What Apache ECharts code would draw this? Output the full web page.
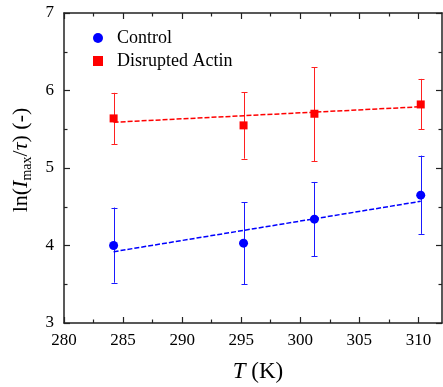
<!DOCTYPE html>
<html><head><meta charset="utf-8">
<script src="https://cdn.jsdelivr.net/npm/echarts@6/dist/echarts.min.js"></script>
<style>html,body{margin:0;padding:0;background:#fff}#c{width:443px;height:387px}</style>
</head><body><div id="c"></div>
<script>
const temps = [284.2, 295.2, 301.2, 310.2];
const controlVals = [4.00, 4.03, 4.34, 4.65];
const controlLow = [3.52, 3.50, 3.86, 4.15];
const controlHigh = [4.49, 4.56, 4.82, 5.16];
const actinVals = [5.64, 5.55, 5.70, 5.82];
const actinLow = [5.31, 5.12, 5.09, 5.50];
const actinHigh = [5.97, 5.98, 6.30, 6.15];
const fitT = [284.2, 310.2];
const controlFit = [3.92, 4.57];
const actinFit = [5.59, 5.79];
const xMajor = [280, 285, 290, 295, 300, 305, 310];
const xMinor = [282.5, 287.5, 292.5, 297.5, 302.5, 307.5];

const FONT = 'Liberation Serif';
const AX = '#222';
const chart = echarts.init(document.getElementById('c'));

function errSeries(name, low, high, color) {
  return {
    type: 'custom', name: name + ' err', xAxisIndex: 0, yAxisIndex: 0, z: 2,
    data: temps.map((t, i) => [t, low[i], high[i]]),
    renderItem: function (params, api) {
      const x = api.coord([api.value(0), api.value(1)])[0];
      const yl = api.coord([api.value(0), api.value(1)])[1];
      const yh = api.coord([api.value(0), api.value(2)])[1];
      const xr = Math.round(x) + 0.5;
      const st = { stroke: color, lineWidth: 1 };
      return { type: 'group', children: [
        { type: 'line', shape: { x1: xr, y1: yl, x2: xr, y2: yh }, style: st },
        { type: 'line', shape: { x1: xr - 3, y1: Math.round(yl) + 0.5, x2: xr + 3, y2: Math.round(yl) + 0.5 }, style: st },
        { type: 'line', shape: { x1: xr - 3, y1: Math.round(yh) + 0.5, x2: xr + 3, y2: Math.round(yh) + 0.5 }, style: st }
      ]};
    }
  };
}

const tickStyle = { color: AX, width: 1.2 };
const lineStyle = { color: AX, width: 1.5 };

chart.setOption({
  animation: false,
  textStyle: { fontFamily: FONT },
  grid: { left: 64, right: 1, top: 13, bottom: 64, containLabel: false, outerBoundsMode: 'none' },
  legend: {
    orient: 'vertical', left: 88, top: 24, itemWidth: 10, itemHeight: 10, itemGap: 5,
    data: ['Control', 'Disrupted Actin'],
    textStyle: { fontFamily: FONT, fontSize: 18, color: '#000', lineHeight: 18, padding: [0, 0, 0, 9] }
  },
  xAxis: [
    { type: 'value', position: 'bottom', min: 280, max: 312,
      axisLine: { show: true, onZero: false, lineStyle: lineStyle },
      axisTick: { show: true, inside: true, length: 6, customValues: xMajor, lineStyle: tickStyle },
      axisLabel: { customValues: xMajor, fontFamily: FONT, fontSize: 17, color: '#000', margin: 9 },
      splitLine: { show: false },
      name: '{i|T}{n| (K)}', nameLocation: 'middle', nameGap: 37,
      nameTextStyle: { padding: [0, 0, 0, 10], rich: {
        i: { fontFamily: FONT, fontSize: 23, fontStyle: 'italic', color: '#000' },
        n: { fontFamily: FONT, fontSize: 23, color: '#000' } } }
    },
    { type: 'value', position: 'bottom', min: 280, max: 312,
      axisLine: { show: false, onZero: false },
      axisTick: { show: true, inside: true, length: 3.5, customValues: xMinor, lineStyle: tickStyle },
      axisLabel: { show: false }, splitLine: { show: false } },
    { type: 'value', position: 'top', min: 280, max: 312,
      axisLine: { show: true, onZero: false, lineStyle: lineStyle },
      axisTick: { show: true, inside: true, length: 6, customValues: xMajor, lineStyle: tickStyle },
      axisLabel: { show: false }, splitLine: { show: false } },
    { type: 'value', position: 'top', min: 280, max: 312,
      axisLine: { show: false, onZero: false },
      axisTick: { show: true, inside: true, length: 3.5, customValues: xMinor, lineStyle: tickStyle },
      axisLabel: { show: false }, splitLine: { show: false } }
  ],
  yAxis: [
    { type: 'value', position: 'left', min: 3, max: 7, interval: 1,
      axisLine: { show: true, onZero: false, lineStyle: lineStyle },
      axisTick: { show: true, inside: true, length: 6, lineStyle: tickStyle },
      minorTick: { show: true, splitNumber: 2, length: 3.5, lineStyle: tickStyle },
      axisLabel: { fontFamily: FONT, fontSize: 17, color: '#000', margin: 10 },
      splitLine: { show: false },
      name: '{n|ln(}{i|I}{s|max}{n|/}{i|τ}{n|) (-)}', nameLocation: 'middle', nameGap: 30,
      nameTextStyle: { padding: [0, 0, 0, 16], rich: {
        n: { fontFamily: FONT, fontSize: 22, color: '#000', lineHeight: 26 },
        i: { fontFamily: FONT, fontSize: 22, fontStyle: 'italic', color: '#000', lineHeight: 26 },
        s: { fontFamily: FONT, fontSize: 14, color: '#000', lineHeight: 26, verticalAlign: 'bottom', padding: [10, 0, 0, 0] } } }
    },
    { type: 'value', position: 'right', min: 3, max: 7, interval: 1,
      axisLine: { show: true, onZero: false, lineStyle: lineStyle },
      axisTick: { show: true, inside: true, length: 6, lineStyle: tickStyle },
      minorTick: { show: true, splitNumber: 2, length: 3.5, lineStyle: tickStyle },
      axisLabel: { show: false }, splitLine: { show: false } }
  ],
  series: [
    errSeries('Control', controlLow, controlHigh, '#1a1aff'),
    errSeries('Disrupted Actin', actinLow, actinHigh, '#ff2020'),
    { type: 'line', name: 'Control fit', data: fitT.map((t, i) => [t, controlFit[i]]), symbol: 'none', z: 3,
      lineStyle: { color: '#0000ff', width: 1.5, type: [5, 2] } },
    { type: 'line', name: 'Actin fit', data: fitT.map((t, i) => [t, actinFit[i]]), symbol: 'none', z: 3,
      lineStyle: { color: '#ff0000', width: 1.5, type: [5, 2] } },
    { type: 'scatter', name: 'Control', data: temps.map((t, i) => [t, controlVals[i]]),
      symbol: 'circle', symbolSize: 9, z: 4, itemStyle: { color: '#0000ff', opacity: 1 } },
    { type: 'scatter', name: 'Disrupted Actin', data: temps.map((t, i) => [t, actinVals[i]]),
      symbol: 'rect', symbolSize: 8, z: 4, itemStyle: { color: '#ff0000', opacity: 1 } }
  ]
});
</script></body></html>
